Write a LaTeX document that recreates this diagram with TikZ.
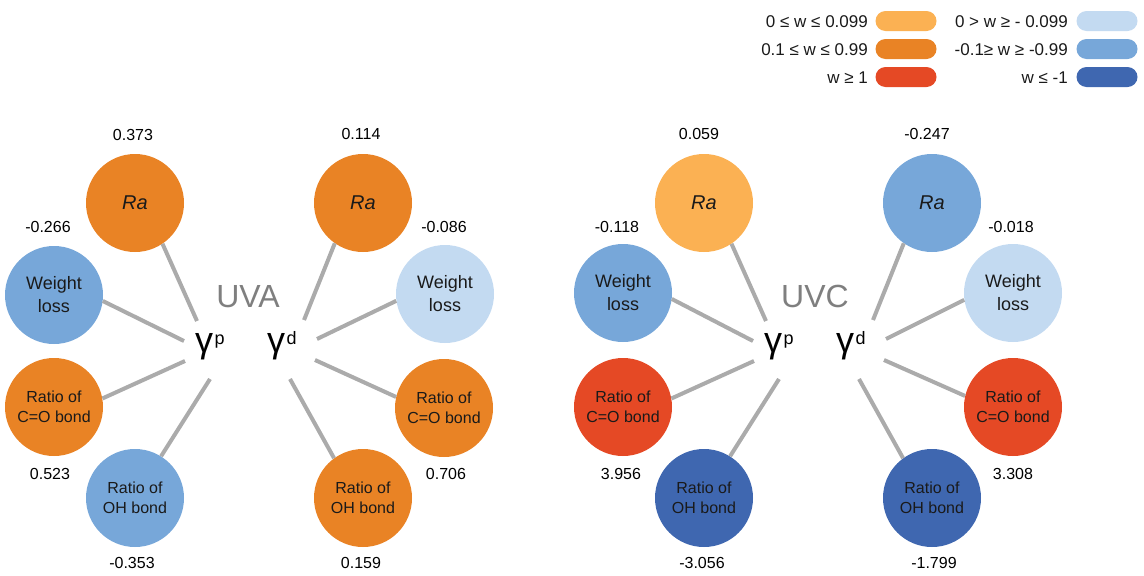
\documentclass[tikz,border=0pt]{standalone}
\usepackage{fontspec}
\setmainfont{Liberation Sans}
\definecolor{cLO}{HTML}{FBB153}
\definecolor{cO}{HTML}{E98325}
\definecolor{cR}{HTML}{E54925}
\definecolor{cLB}{HTML}{C3DAF1}
\definecolor{cMB}{HTML}{77A7D9}
\definecolor{cDB}{HTML}{3F67B0}
\definecolor{lnkc}{HTML}{ABABAB}
\definecolor{ttlc}{HTML}{7F7F7F}
\definecolor{txtc}{HTML}{1A1A1A}
\newcommand{\gamTxt}[1]{γ\kern1.5pt\raisebox{8pt}{\fontsize{18}{18}\selectfont #1}}
\begin{document}
\begin{tikzpicture}[x=1pt,y=-1pt,
  bub/.style={circle,minimum size=98pt,inner sep=0pt,draw=none,text=txtc,align=center},
  rab/.style={bub,font=\fontsize{20}{20}\selectfont\itshape},
  wlb/.style={bub,font=\fontsize{18}{23}\selectfont},
  bdb/.style={bub,font=\fontsize{16}{20}\selectfont},
  val/.style={anchor=base,inner sep=0pt,font=\fontsize{16}{16}\selectfont,text=black},
  lnk/.style={draw=lnkc,line width=4pt},
  gam/.style={anchor=base west,inner sep=0pt,font=\fontsize{36}{36}\selectfont,text=black},
  ttl/.style={anchor=base,inner sep=0pt,font=\fontsize{32}{32}\selectfont,text=ttlc},
  pill/.style={minimum width=61pt,minimum height=20pt,inner sep=0pt,rounded corners=10pt,draw=none},
  leglab/.style={anchor=base east,inner sep=0pt,font=\fontsize{17}{17}\selectfont,text=txtc}]
\useasboundingbox (0,0) rectangle (1144,576);

% ---------- legend ----------
\node[pill,fill=cLO] (p1) at (906,21) {};
\node[pill,fill=cO]  (p2) at (906,49) {};
\node[pill,fill=cR]  (p3) at (906,77) {};
\node[pill,fill=cLB] (p4) at (1107,21) {};
\node[pill,fill=cMB] (p5) at (1107,49) {};
\node[pill,fill=cDB] (p6) at (1107,77) {};
\node[leglab] (l1) at (868,27) {0 ≤ w ≤ 0.099};
\node[leglab] (l2) at (868,55) {0.1 ≤ w ≤ 0.99};
\node[leglab] (l3) at (868,83) {w ≥ 1};
\node[leglab] (l4) at (1068,27) {0 > w ≥ - 0.099};
\node[leglab] (l5) at (1068,55) {-0.1≥ w ≥ -0.99};
\node[leglab] (l6) at (1068,83) {w ≤ -1};

% ---------- UVA ----------
\node[ttl] (tA) at (248,307) {UVA};
\node[gam] (gpA) at (195,352) {\gamTxt{p}};
\node[gam] (gdA) at (267,352) {\gamTxt{d}};

\node[rab,fill=cO]  (raPA) at (135,203) {Ra};
\node[wlb,fill=cMB] (wlPA) at (54,295) {Weight\\loss};
\node[bdb,fill=cO]  (coPA) at (54,407) {Ratio of\\C=O bond};
\node[bdb,fill=cMB] (ohPA) at (135,498) {Ratio of\\OH bond};
\node[rab,fill=cO]  (raDA) at (363,203) {Ra};
\node[wlb,fill=cLB] (wlDA) at (445,294) {Weight\\loss};
\node[bdb,fill=cO]  (coDA) at (444,408) {Ratio of\\C=O bond};
\node[bdb,fill=cO]  (ohDA) at (363,498) {Ratio of\\OH bond};

\coordinate (eA1) at (197,321);
\coordinate (eA2) at (184,341);
\coordinate (eA3) at (185,361);
\coordinate (eA4) at (210,379);
\coordinate (eA5) at (304,320);
\coordinate (eA6) at (317,339);
\coordinate (eA7) at (315,360);
\coordinate (eA8) at (290,379);
\draw[lnk] (raPA.-56) -- (eA1);
\draw[lnk] (wlPA.-7) -- (eA2);
\draw[lnk] (coPA.10) -- (eA3);
\draw[lnk] (ohPA.58) -- (eA4);
\draw[lnk] (raDA.-125) -- (eA5);
\draw[lnk] (wlDA.188) -- (eA6);
\draw[lnk] (coDA.167) -- (eA7);
\draw[lnk] (ohDA.126) -- (eA8);

\node[val] (vA1) at (133,140) {0.373};
\node[val] (vA2) at (48,232) {-0.266};
\node[val] (vA3) at (50,479) {0.523};
\node[val] (vA4) at (132,568) {-0.353};
\node[val] (vA5) at (361,139) {0.114};
\node[val] (vA6) at (444,232) {-0.086};
\node[val] (vA7) at (446,479) {0.706};
\node[val] (vA8) at (361,568) {0.159};

% ---------- UVC ----------
\node[ttl] (tC) at (815,307) {UVC};
\node[gam] (gpC) at (764,352) {\gamTxt{p}};
\node[gam] (gdC) at (836,352) {\gamTxt{d}};

\node[rab,fill=cLO] (raPC) at (704,203) {Ra};
\node[wlb,fill=cMB] (wlPC) at (623,293) {Weight\\loss};
\node[bdb,fill=cR]  (coPC) at (623,407) {Ratio of\\C=O bond};
\node[bdb,fill=cDB] (ohPC) at (704,498) {Ratio of\\OH bond};
\node[rab,fill=cMB] (raDC) at (932,203) {Ra};
\node[wlb,fill=cLB] (wlDC) at (1013,293) {Weight\\loss};
\node[bdb,fill=cR]  (coDC) at (1013,407) {Ratio of\\C=O bond};
\node[bdb,fill=cDB] (ohDC) at (932,498) {Ratio of\\OH bond};

\coordinate (eC1) at (766,321);
\coordinate (eC2) at (753,341);
\coordinate (eC3) at (754,361);
\coordinate (eC4) at (779,379);
\coordinate (eC5) at (873,320);
\coordinate (eC6) at (886,339);
\coordinate (eC7) at (884,360);
\coordinate (eC8) at (859,379);
\draw[lnk] (raPC.-56) -- (eC1);
\draw[lnk] (wlPC.-7) -- (eC2);
\draw[lnk] (coPC.10) -- (eC3);
\draw[lnk] (ohPC.58) -- (eC4);
\draw[lnk] (raDC.-125) -- (eC5);
\draw[lnk] (wlDC.188) -- (eC6);
\draw[lnk] (coDC.167) -- (eC7);
\draw[lnk] (ohDC.126) -- (eC8);

\node[val] (vC1) at (699,139) {0.059};
\node[val] (vC2) at (617,232) {-0.118};
\node[val] (vC3) at (621,479) {3.956};
\node[val] (vC4) at (702,568) {-3.056};
\node[val] (vC5) at (927,139) {-0.247};
\node[val] (vC6) at (1011,232) {-0.018};
\node[val] (vC7) at (1013,479) {3.308};
\node[val] (vC8) at (934,568) {-1.799};
\end{tikzpicture}
\end{document}
